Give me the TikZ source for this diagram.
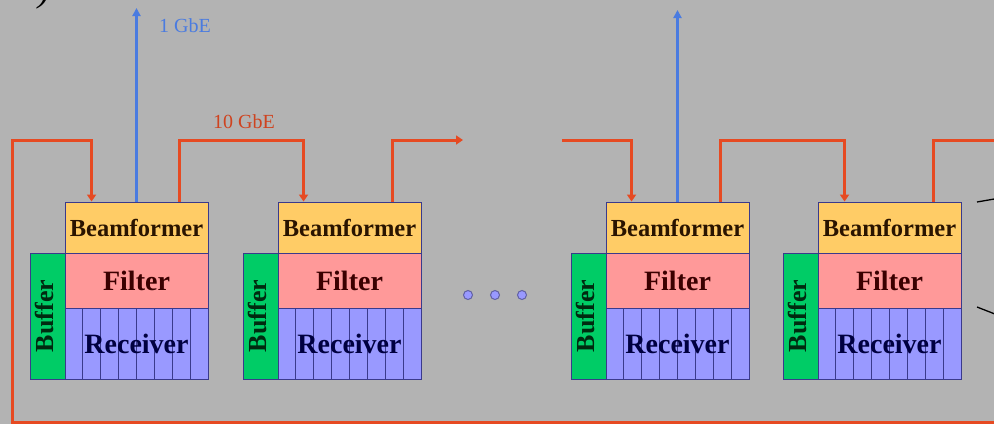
\documentclass[tikz,border=0pt]{standalone}
\usepackage{fontspec}
\setmainfont{Liberation Serif}
\usetikzlibrary{arrows.meta,calc}
\definecolor{bggray}{HTML}{B3B3B3}
\definecolor{bfcol}{HTML}{FFCC66}
\definecolor{flcol}{HTML}{FF9999}
\definecolor{rccol}{HTML}{9999FF}
\definecolor{bucol}{HTML}{00CC66}
\definecolor{outl}{HTML}{3A3A8C}
\definecolor{netred}{HTML}{E64A22}
\definecolor{netblue}{HTML}{4A7BE0}
\definecolor{bftext}{HTML}{2A1400}
\definecolor{fltext}{HTML}{3A0000}
\definecolor{rctext}{HTML}{000040}
\definecolor{butext}{HTML}{002A10}
\tikzset{
  unitpart/.style={draw=outl, line width=0.9pt, inner sep=0pt},
  bfbox/.style={unitpart, fill=bfcol, minimum width=143pt, minimum height=51pt,
    text=bftext, font=\bfseries\fontsize{24.5}{24.5}\selectfont},
  flbox/.style={unitpart, fill=flcol, minimum width=143pt, minimum height=55pt,
    text=fltext, font=\bfseries\fontsize{28}{28}\selectfont},
  rcbox/.style={unitpart, fill=rccol, minimum width=143pt, minimum height=71pt,
    text=rctext, font=\bfseries\fontsize{28}{28}\selectfont,
    path picture={\foreach \k in {1,...,7}{\draw[outl, line width=0.9pt]
      ($(path picture bounding box.south west)!\k/8!(path picture bounding box.south east)$) --
      ($(path picture bounding box.north west)!\k/8!(path picture bounding box.north east)$);}}},
  bubox/.style={unitpart, fill=bucol, minimum width=35pt, minimum height=126pt},
  butxt/.style={inner sep=0pt, rotate=90, text=butext, font=\bfseries\fontsize{26}{26}\selectfont},
  tenge/.style={draw=netred, line width=3pt, line join=miter},
  tengearrow/.style={tenge, -{Triangle[length=7pt,width=9pt]}},
  onege/.style={draw=netblue, line width=2.5pt, -{Triangle[length=8pt,width=8pt]}},
  dotnode/.style={circle, fill=rccol, draw=outl!80, line width=1pt, minimum size=9pt, inner sep=0pt},
  zoomline/.style={draw=black, line width=1.3pt},
  netlabel/.style={inner sep=0pt, font=\fontsize{20}{20}\selectfont}
}
\newcommand{\lofarunit}[2]{%
  \begin{scope}[shift={(#2,0)}, name prefix=#1-]
    \node[bfbox] (bf) at (136.5,227.5) {Beamformer};
    \node[flbox] (fl) at (136.5,280.5) {Filter};
    \node[rcbox] (rc) at (136.5,343.5) {Receiver};
    \node[bubox] (bu) at (47.5,316) {};
    \node[butxt] (bt) at ([xshift=-3pt]bu.center) {Buffer};
  \end{scope}}
\begin{document}
\begin{tikzpicture}[x=1pt,y=-1pt]
  \useasboundingbox (0,0) rectangle (994,424);
  \fill[bggray] (0,0) rectangle (994,424);
  \begin{scope}
    \clip (0,0) rectangle (994,424);
    \node[anchor=base west, inner sep=0pt, font=\itshape\fontsize{36}{36}\selectfont] (frag) at (38,1) {)};

    % rail level and free ends
    \coordinate (rail) at (0,140);
    \coordinate (loopBR) at (1000,422);
    \coordinate (loopBL) at (12,422);
    \coordinate (gapR) at (463,140);
    \coordinate (gapL) at (562,140);
    \coordinate (edgeT) at (1000,140);
    \coordinate (blueTop) at (0,8);
    \coordinate (zA1) at (977,202);
    \coordinate (zA2) at (1000,198);
    \coordinate (zB1) at (977,307);
    \coordinate (zB2) at (1000,316);

    \lofarunit{u1}{0}
    \lofarunit{u2}{213}
    \lofarunit{u3}{541}
    \lofarunit{u4}{753}

    % 10 GbE ring
    \draw[tengearrow] (loopBR) -- (loopBL) -- (loopBL |- rail)
      -- ([xshift=27pt]u1-bf.north west |- rail) -- ([xshift=27pt]u1-bf.north west);
    \draw[tengearrow] ([xshift=115pt]u1-bf.north west) -- ([xshift=115pt]u1-bf.north west |- rail)
      -- ([xshift=26pt]u2-bf.north west |- rail) -- ([xshift=26pt]u2-bf.north west);
    \draw[tengearrow] ([xshift=115pt]u2-bf.north west) -- ([xshift=115pt]u2-bf.north west |- rail)
      -- (gapR);
    \draw[tengearrow] (gapL) -- ([xshift=26pt]u3-bf.north west |- rail) -- ([xshift=26pt]u3-bf.north west);
    \draw[tengearrow] ([xshift=115pt]u3-bf.north west) -- ([xshift=115pt]u3-bf.north west |- rail)
      -- ([xshift=27pt]u4-bf.north west |- rail) -- ([xshift=27pt]u4-bf.north west);
    \draw[tenge] ([xshift=116pt]u4-bf.north west) -- ([xshift=116pt]u4-bf.north west |- rail) -- (edgeT);

    % 1 GbE uplinks
    \draw[onege] (u1-bf.north) -- (u1-bf.north |- blueTop);
    \draw[onege] (u3-bf.north) -- ([yshift=-2pt]u3-bf.north |- blueTop);

    \node[netlabel, text=netblue] (l1) at (185,26) {1 GbE};
    \node[netlabel, text=netred!90!black] (l10) at (244,122) {10 GbE};

    % ellipsis dots
    \node[dotnode] (d1) at (468,295) {};
    \node[dotnode] (d2) at (495,295) {};
    \node[dotnode] (d3) at (522,295) {};

    % zoom lines
    \draw[zoomline] (zA1) -- (zA2);
    \draw[zoomline] (zB1) -- (zB2);
  \end{scope}
\end{tikzpicture}
\end{document}
